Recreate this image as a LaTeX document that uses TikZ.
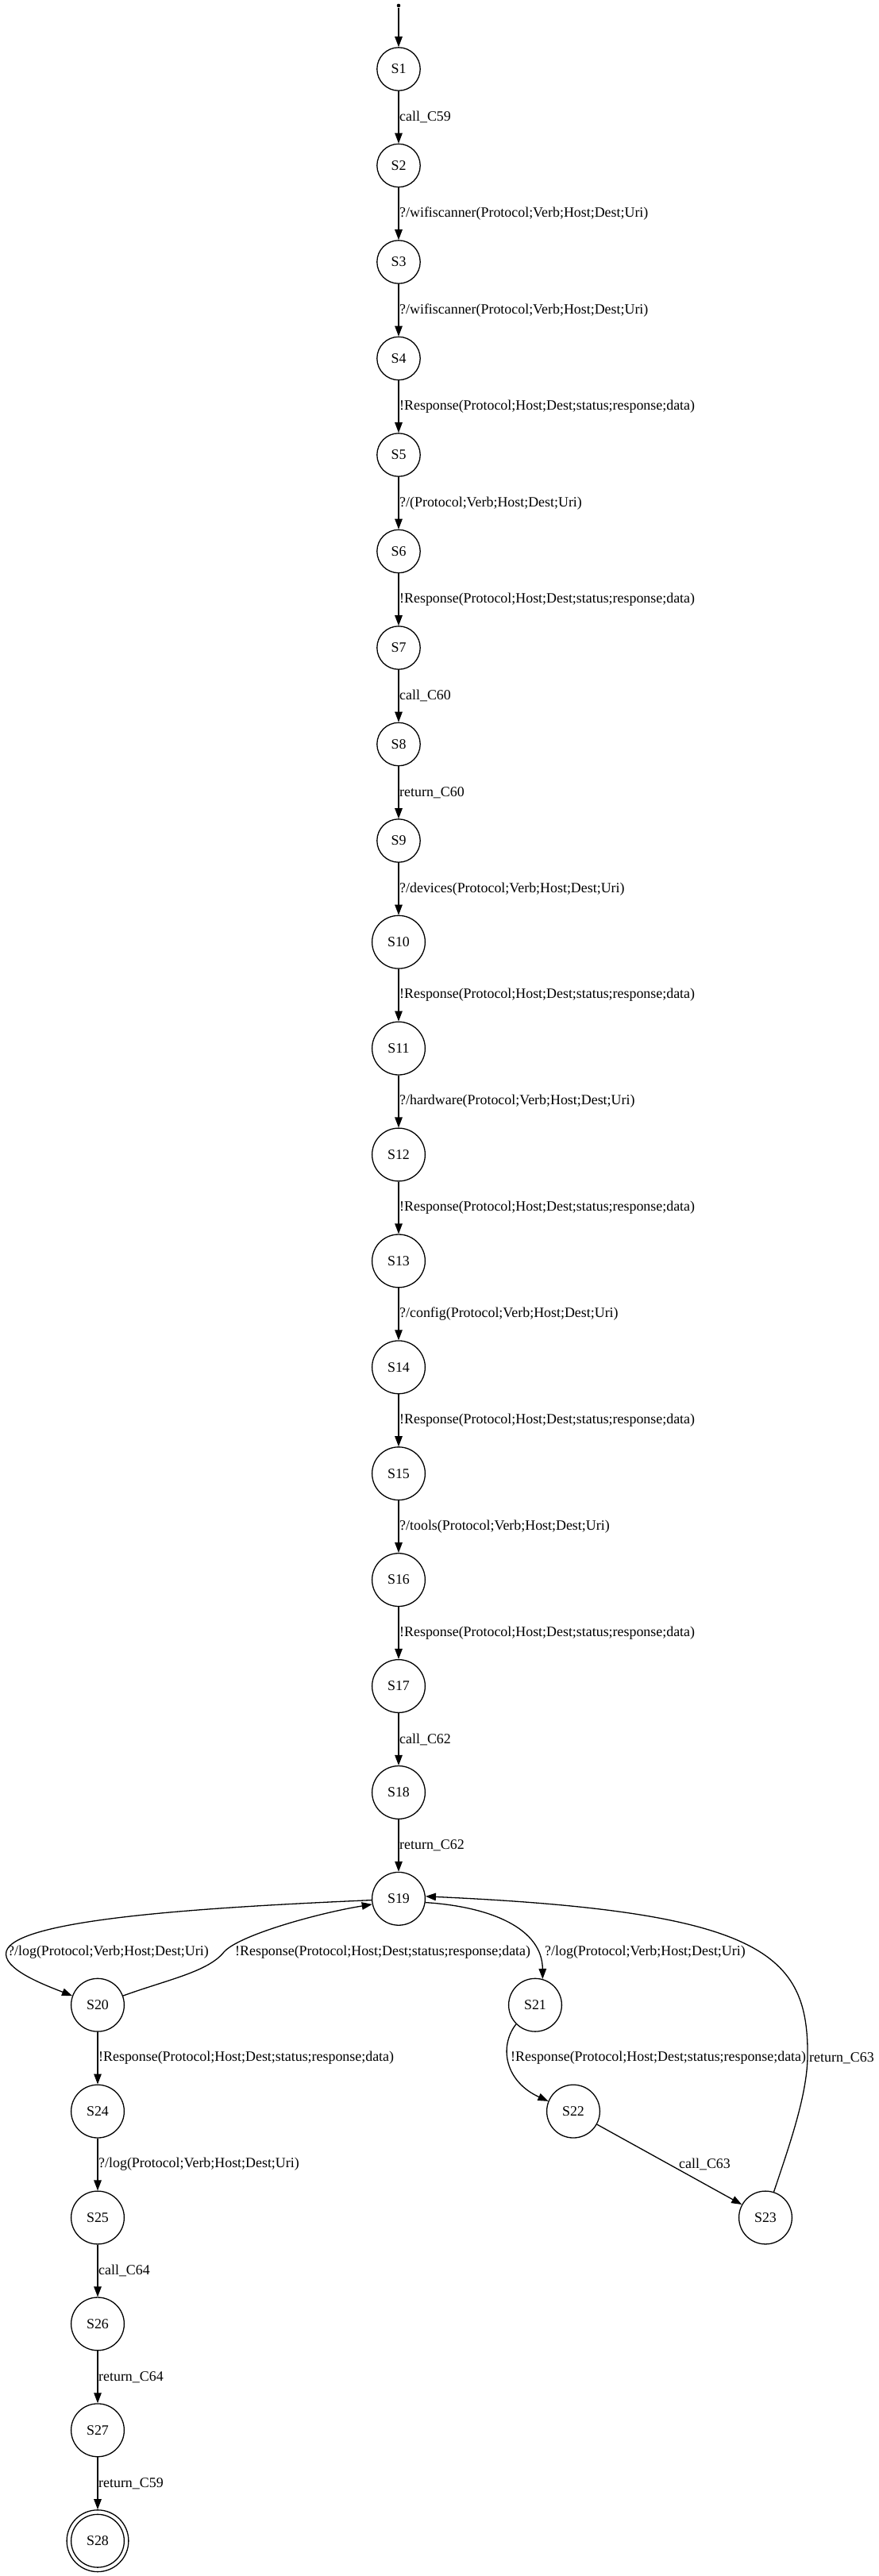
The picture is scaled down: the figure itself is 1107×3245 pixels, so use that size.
\documentclass[tikz,border=0pt]{standalone}
\usepackage{fontspec}
\setmainfont{Liberation Serif}
\usetikzlibrary{arrows.meta}
\begin{document}
\begin{tikzpicture}[x=1pt,y=-1pt,
  every node/.style={font=\fontsize{17.9}{21}\selectfont},
  small/.style={draw, circle, line width=1.3pt, minimum size=54.4pt, inner sep=0pt},
  big/.style={draw, circle, line width=1.3pt, minimum size=66.8pt, inner sep=0pt},
  final/.style={draw, circle, line width=1.3pt, minimum size=77.8pt, inner sep=0pt},
  edge/.style={line width=1.3pt, -{Triangle[length=13pt,width=9.5pt]}},
  lab/.style={anchor=west, inner sep=0pt},
]
\useasboundingbox (0,0) rectangle (1107,3245);
% initial point
\node[circle, fill, inner sep=0pt, minimum size=4.6pt] (init) at (502,7) {};
% main column
\node[small] (S1) at (502,87) {S1};
\node[small] (S2) at (502,208.5) {S2};
\node[small] (S3) at (502,330) {S3};
\node[small] (S4) at (502,451.5) {S4};
\node[small] (S5) at (502,573) {S5};
\node[small] (S6) at (502,694.5) {S6};
\node[small] (S7) at (502,816) {S7};
\node[small] (S8) at (502,937.5) {S8};
\node[small] (S9) at (502,1059) {S9};
\node[big] (S10) at (502,1186.7) {S10};
\node[big] (S11) at (502,1320.6) {S11};
\node[big] (S12) at (502,1454.5) {S12};
\node[big] (S13) at (502,1588.4) {S13};
\node[big] (S14) at (502,1722.3) {S14};
\node[big] (S15) at (502,1856.2) {S15};
\node[big] (S16) at (502,1990.1) {S16};
\node[big] (S17) at (502,2124) {S17};
\node[big] (S18) at (502,2257.9) {S18};
\node[big] (S19) at (502,2391.8) {S19};
\node[big] (S20) at (123,2525.7) {S20};
\node[big] (S21) at (674,2525.7) {S21};
\node[big] (S22) at (722,2659.6) {S22};
\node[big] (S23) at (964,2793.5) {S23};
\node[big] (S24) at (123,2659.6) {S24};
\node[big] (S25) at (123,2793.5) {S25};
\node[big] (S26) at (123,2927.4) {S26};
\node[big] (S27) at (123,3061.3) {S27};
\node[final] (S28) at (123,3200.7) {S28};
\draw[line width=1.3pt] (S28.center) circle (33.4);

% straight edges
\draw[edge] (init) -- (S1);
\draw[edge] (S1) -- (S2);
\draw[edge] (S2) -- (S3);
\draw[edge] (S3) -- (S4);
\draw[edge] (S4) -- (S5);
\draw[edge] (S5) -- (S6);
\draw[edge] (S6) -- (S7);
\draw[edge] (S7) -- (S8);
\draw[edge] (S8) -- (S9);
\draw[edge] (S9) -- (S10);
\draw[edge] (S10) -- (S11);
\draw[edge] (S11) -- (S12);
\draw[edge] (S12) -- (S13);
\draw[edge] (S13) -- (S14);
\draw[edge] (S14) -- (S15);
\draw[edge] (S15) -- (S16);
\draw[edge] (S16) -- (S17);
\draw[edge] (S17) -- (S18);
\draw[edge] (S18) -- (S19);
\draw[edge] (S20) -- (S24);
\draw[edge] (S24) -- (S25);
\draw[edge] (S25) -- (S26);
\draw[edge] (S26) -- (S27);
\draw[edge] (S27) -- (S28);
\draw[edge] (S22) -- (S23);

% curved edges
\draw[edge] (S19.183) .. controls (250,2403) and (20,2418) .. (8,2458)
  .. controls (2,2480) and (55,2500) .. (S20.160);
\draw[edge] (S20.20) .. controls (210,2494) and (262,2484) .. (282,2459)
  .. controls (300,2438) and (400,2410) .. (S19.192);
\draw[edge] (S19.-8) .. controls (620,2402) and (683,2430) .. (S21.74);
\draw[edge] (S21.225) .. controls (628,2578) and (636,2622) .. (S22.158);
\draw[edge] (S23.72) .. controls (995,2700) and (1016,2640) .. (1017,2592)
  .. controls (1019,2460) and (960,2408) .. (S19.5);

% labels
\node[lab] (l1) at (503,147.75) {call\_C59};
\node[lab] (l2) at (503,269.25) {?/wifiscanner(Protocol;Verb;Host;Dest;Uri)};
\node[lab] (l3) at (503,390.75) {?/wifiscanner(Protocol;Verb;Host;Dest;Uri)};
\node[lab] (l4) at (503,512.25) {!Response(Protocol;Host;Dest;status;response;data)};
\node[lab] (l5) at (503,633.75) {?/(Protocol;Verb;Host;Dest;Uri)};
\node[lab] (l6) at (503,755.25) {!Response(Protocol;Host;Dest;status;response;data)};
\node[lab] (l7) at (503,876.75) {call\_C60};
\node[lab] (l8) at (503,998.25) {return\_C60};
\node[lab] (l9) at (503,1119.75) {?/devices(Protocol;Verb;Host;Dest;Uri)};
\node[lab] (l10) at (503,1253.65) {!Response(Protocol;Host;Dest;status;response;data)};
\node[lab] (l11) at (503,1387.55) {?/hardware(Protocol;Verb;Host;Dest;Uri)};
\node[lab] (l12) at (503,1521.45) {!Response(Protocol;Host;Dest;status;response;data)};
\node[lab] (l13) at (503,1655.35) {?/config(Protocol;Verb;Host;Dest;Uri)};
\node[lab] (l14) at (503,1789.25) {!Response(Protocol;Host;Dest;status;response;data)};
\node[lab] (l15) at (503,1923.15) {?/tools(Protocol;Verb;Host;Dest;Uri)};
\node[lab] (l16) at (503,2057.05) {!Response(Protocol;Host;Dest;status;response;data)};
\node[lab] (l17) at (503,2190.95) {call\_C62};
\node[lab] (l18) at (503,2324.85) {return\_C62};
\node[lab] (l19a) at (10,2458.75) {?/log(Protocol;Verb;Host;Dest;Uri)};
\node[lab] (l19b) at (296,2458.75) {!Response(Protocol;Host;Dest;status;response;data)};
\node[lab] (l19c) at (686,2458.75) {?/log(Protocol;Verb;Host;Dest;Uri)};
\node[lab] (l21) at (643,2592.65) {!Response(Protocol;Host;Dest;status;response;data)};
\node[lab] (l23) at (1019,2592.65) {return\_C63};
\node[lab] (l22) at (855,2726.55) {call\_C63};
\node[lab] (l20) at (124,2592.65) {!Response(Protocol;Host;Dest;status;response;data)};
\node[lab] (l24) at (124,2726.55) {?/log(Protocol;Verb;Host;Dest;Uri)};
\node[lab] (l25) at (124,2860.45) {call\_C64};
\node[lab] (l26) at (124,2994.35) {return\_C64};
\node[lab] (l27) at (124,3128.25) {return\_C59};
\end{tikzpicture}
\end{document}
